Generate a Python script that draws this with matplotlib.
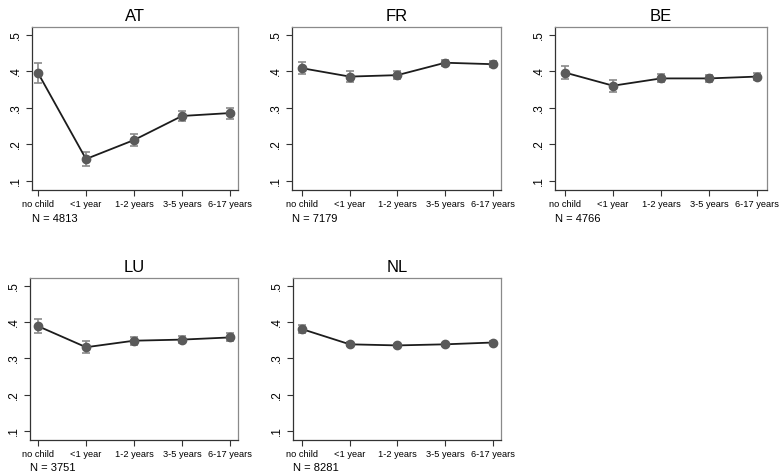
import matplotlib
matplotlib.use("Agg")
import matplotlib.pyplot as plt
import numpy as np

plt.rcParams['font.family'] = ['Liberation Sans', 'DejaVu Sans']

categories = ["no child", "<1 year", "1-2 years", "3-5 years", "6-17 years"]
countries = ["AT", "FR", "BE", "LU", "NL"]
n_obs = [4813, 7179, 4766, 3751, 8281]

mean_AT = [0.396, 0.160, 0.212, 0.278, 0.286]
ci_AT = [0.027, 0.020, 0.017, 0.014, 0.015]
mean_FR = [0.409, 0.386, 0.390, 0.424, 0.420]
ci_FR = [0.016, 0.014, 0.010, 0.008, 0.009]
mean_BE = [0.397, 0.361, 0.381, 0.381, 0.386]
ci_BE = [0.018, 0.017, 0.011, 0.009, 0.010]
mean_LU = [0.389, 0.331, 0.349, 0.352, 0.358]
ci_LU = [0.020, 0.016, 0.011, 0.009, 0.011]
mean_NL = [0.381, 0.339, 0.336, 0.339, 0.344]
ci_NL = [0.012, 0.006, 0.004, 0.004, 0.004]

means = [mean_AT, mean_FR, mean_BE, mean_LU, mean_NL]
cis = [ci_AT, ci_FR, ci_BE, ci_LU, ci_NL]
yticks = [0.1, 0.2, 0.3, 0.4, 0.5]
ytick_labels = [".1", ".2", ".3", ".4", ".5"]

W, H = 781, 476
fig = plt.figure(figsize=(W / 100, H / 100), dpi=100)

# axes boxes in pixels: (left, top, right, bottom), and x-limits
boxes = [(32, 27, 238, 190), (292, 27, 501, 190), (555, 27, 767, 190),
         (30, 278, 238, 440), (293, 278, 501, 440)]
xlims = [(-0.125, 4.167), (-0.21, 4.17), (-0.21, 4.21), (-0.17, 4.17), (-0.19, 4.17)]

for i, c in enumerate(countries):
    l, t, r, b = boxes[i]
    ax = fig.add_axes([l / W, 1 - b / H, (r - l) / W, (b - t) / H])
    x = np.arange(len(categories))
    ax.errorbar(x, means[i], yerr=cis[i], fmt='none', ecolor='#8a8a8a',
                elinewidth=1.2, capsize=3, capthick=1.2, zorder=2)
    ax.plot(x, means[i], color='#1c1c1c', lw=1.3, zorder=3)
    ax.plot(x, means[i], 'o', color='#5a5a5a', ms=6, zorder=4)
    ax.set_xlim(*xlims[i])
    ax.set_ylim(0.075, 0.522)
    ax.set_yticks(yticks)
    ax.set_yticklabels(ytick_labels, rotation=90, va='center', fontsize=8.5)
    ax.set_xticks(x)
    ax.set_xticklabels(categories, fontsize=6.7)
    ax.tick_params(axis='both', length=4, width=0.8, color='#333333', pad=3)
    for s in ['left', 'bottom']:
        ax.spines[s].set_color('#333333')
        ax.spines[s].set_linewidth(0.9)
    for s in ['top', 'right']:
        ax.spines[s].set_color('#8a8a8a')
        ax.spines[s].set_linewidth(0.9)
    ax.set_title(c, fontsize=12, pad=4)
    ax.text(0.0, -0.145, f"N = {n_obs[i]}", transform=ax.transAxes,
            fontsize=8, ha='left', va='top')

fig.savefig("out.png", dpi=100)
